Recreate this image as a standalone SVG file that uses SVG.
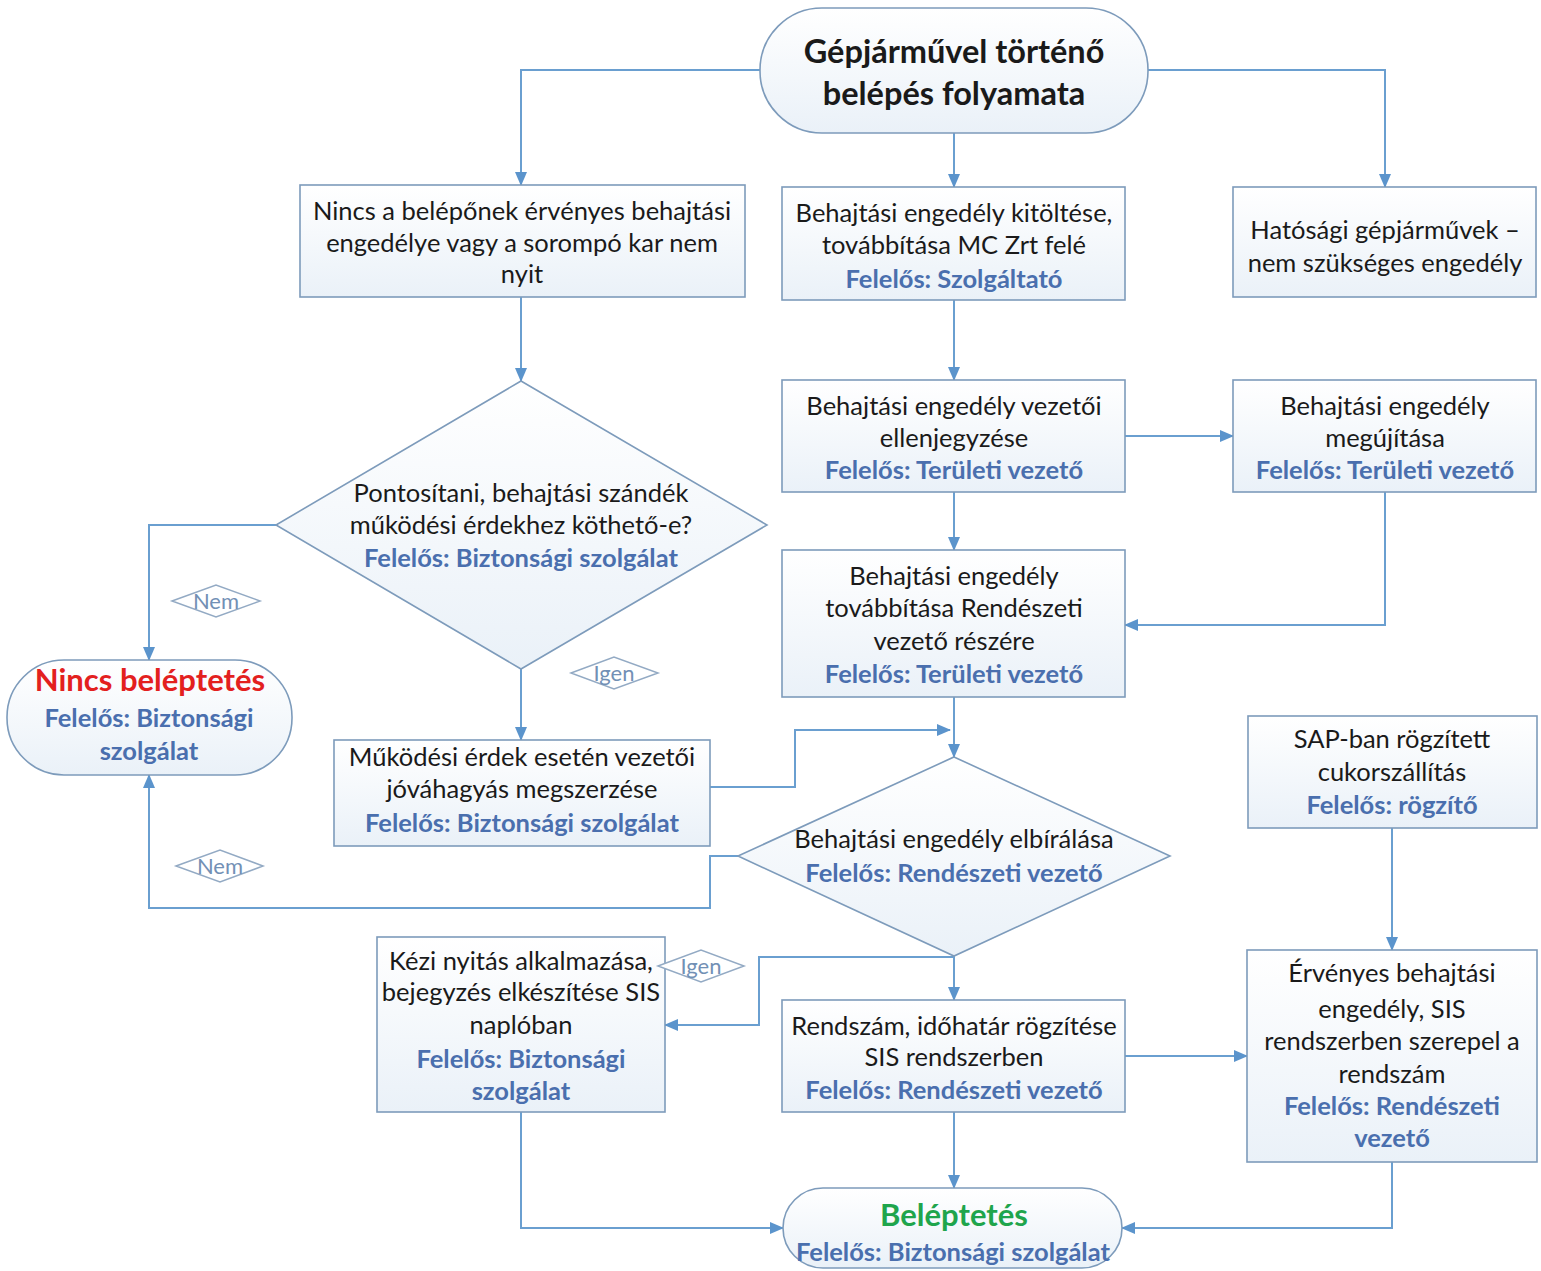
<svg xmlns="http://www.w3.org/2000/svg" width="1541" height="1271" viewBox="0 0 1541 1271">
<style>
.box{fill:url(#g);stroke:#7d9bbb;stroke-width:1.6}
.t{font-family:Lato,"Noto Sans",sans-serif;font-size:25.5px;fill:#1a1a1a;text-anchor:middle;dominant-baseline:central}
.b{font-weight:bold;fill:#4a6fae}
.c{fill:none;stroke:#6a9fd0;stroke-width:2}
.a{marker-end:url(#ar)}
.lb{fill:#fff;stroke:#93aac4;stroke-width:1.5}
.lt{font-family:Lato,"Noto Sans",sans-serif;font-size:22px;fill:#7290b5;text-anchor:middle;dominant-baseline:central}
</style>
<defs>
<linearGradient id="g" x1="0" y1="0" x2="0" y2="1"><stop offset="0" stop-color="#ffffff"/><stop offset="1" stop-color="#eaf1f8"/></linearGradient>
<marker id="ar" markerWidth="14" markerHeight="12" refX="13" refY="6" orient="auto" markerUnits="userSpaceOnUse"><path d="M0,0 L14,6 L0,12 z" fill="#5b94cc"/></marker>
</defs>
<rect width="1541" height="1271" fill="#fff"/>
<g id="connectors">
<path class="c a" d="M760,70 H521 V185"/>
<path class="c a" d="M954,133 V187"/>
<path class="c a" d="M1148,70 H1385 V187"/>
<path class="c a" d="M521,297 V381"/>
<path class="c a" d="M954,300 V380"/>
<path class="c a" d="M1125,436 H1233"/>
<path class="c a" d="M954,492 V550"/>
<path class="c a" d="M1385,492 V625 H1125"/>
<path class="c a" d="M276,525 H149 V660"/>
<path class="c a" d="M521,669 V740"/>
<path class="c a" d="M954,697 V757"/>
<path class="c a" d="M710,787 H795 V730 H950"/>
<path class="c a" d="M738,856 H710 V908 H149 V775"/>
<path class="c a" d="M954,956 V1000"/>
<path class="c a" d="M954,957 H759 V1025 H665"/>
<path class="c a" d="M1125,1056 H1247"/>
<path class="c a" d="M1392,828 V950"/>
<path class="c a" d="M954,1112 V1188"/>
<path class="c a" d="M521,1112 V1228 H783"/>
<path class="c a" d="M1392,1162 V1228 H1122"/>
</g>
<g id="start">
<rect class="box" x="760" y="8" width="388" height="125" rx="62"/>
<text class="t" x="954" y="50" style="font-size:32.5px;font-weight:bold">Gépjárművel történő</text>
<text class="t" x="954" y="92" style="font-size:32.5px;font-weight:bold">belépés folyamata</text>
</g>
<g id="nincs-engedely">
<rect class="box" x="300" y="185" width="445" height="112"/>
<text class="t" x="522" y="210">Nincs a belépőnek érvényes behajtási</text>
<text class="t" x="522" y="242">engedélye vagy a sorompó kar nem</text>
<text class="t" x="522" y="273">nyit</text>
</g>
<g id="kitoltes">
<rect class="box" x="782" y="187" width="343" height="113"/>
<text class="t" x="954" y="212">Behajtási engedély kitöltése,</text>
<text class="t" x="954" y="244">továbbítása MC Zrt felé</text>
<text class="t b" x="954" y="278">Felelős: Szolgáltató</text>
</g>
<g id="hatosagi">
<rect class="box" x="1233" y="187" width="303" height="110"/>
<text class="t" x="1385" y="229">Hatósági gépjárművek –</text>
<text class="t" x="1385" y="262">nem szükséges engedély</text>
</g>
<g id="ellenjegyzes">
<rect class="box" x="782" y="380" width="343" height="112"/>
<text class="t" x="954" y="405">Behajtási engedély vezetői</text>
<text class="t" x="954" y="437">ellenjegyzése</text>
<text class="t b" x="954" y="469">Felelős: Területi vezető</text>
</g>
<g id="megujitas">
<rect class="box" x="1233" y="380" width="303" height="112"/>
<text class="t" x="1385" y="405">Behajtási engedély</text>
<text class="t" x="1385" y="437">megújítása</text>
<text class="t b" x="1385" y="469">Felelős: Területi vezető</text>
</g>
<g id="pontositani">
<path class="box" d="M521,381 L767,525 L521,669 L276,525 Z"/>
<text class="t" x="521" y="492">Pontosítani, behajtási szándék</text>
<text class="t" x="521" y="524">működési érdekhez köthető-e?</text>
<text class="t b" x="521" y="557">Felelős: Biztonsági szolgálat</text>
</g>
<g id="tovabbitas">
<rect class="box" x="782" y="550" width="343" height="147"/>
<text class="t" x="954" y="575">Behajtási engedély</text>
<text class="t" x="954" y="607">továbbítása Rendészeti</text>
<text class="t" x="954" y="640">vezető részére</text>
<text class="t b" x="954" y="673">Felelős: Területi vezető</text>
</g>
<g id="nincs-beleptetes">
<rect class="box" x="7" y="660" width="285" height="115" rx="57"/>
<text class="t" x="150" y="679" style="font-size:31px;font-weight:bold;fill:#e3201e">Nincs beléptetés</text>
<text class="t b" x="149" y="717">Felelős: Biztonsági</text>
<text class="t b" x="149" y="750">szolgálat</text>
</g>
<g id="mukodesi">
<rect class="box" x="334" y="740" width="376" height="106"/>
<text class="t" x="522" y="756">Működési érdek esetén vezetői</text>
<text class="t" x="522" y="788">jóváhagyás megszerzése</text>
<text class="t b" x="522" y="822">Felelős: Biztonsági szolgálat</text>
</g>
<g id="elbiralas">
<path class="box" d="M954,757 L1170,856 L954,956 L738,856 Z"/>
<text class="t" x="954" y="838">Behajtási engedély elbírálása</text>
<text class="t b" x="954" y="872">Felelős: Rendészeti vezető</text>
</g>
<g id="sap">
<rect class="box" x="1248" y="716" width="289" height="112"/>
<text class="t" x="1392" y="738">SAP-ban rögzített</text>
<text class="t" x="1392" y="771">cukorszállítás</text>
<text class="t b" x="1392" y="804">Felelős: rögzítő</text>
</g>
<g id="kezi">
<rect class="box" x="377" y="937" width="288" height="175"/>
<text class="t" x="521" y="960">Kézi nyitás alkalmazása,</text>
<text class="t" x="521" y="991">bejegyzés elkészítése SIS</text>
<text class="t" x="521" y="1024">naplóban</text>
<text class="t b" x="521" y="1058">Felelős: Biztonsági</text>
<text class="t b" x="521" y="1090">szolgálat</text>
</g>
<g id="rendszam">
<rect class="box" x="782" y="1000" width="343" height="112"/>
<text class="t" x="954" y="1025">Rendszám, időhatár rögzítése</text>
<text class="t" x="954" y="1056">SIS rendszerben</text>
<text class="t b" x="954" y="1089">Felelős: Rendészeti vezető</text>
</g>
<g id="ervenyes">
<rect class="box" x="1247" y="950" width="290" height="212"/>
<text class="t" x="1392" y="972">Érvényes behajtási</text>
<text class="t" x="1392" y="1008">engedély, SIS</text>
<text class="t" x="1392" y="1040">rendszerben szerepel a</text>
<text class="t" x="1392" y="1073">rendszám</text>
<text class="t b" x="1392" y="1105">Felelős: Rendészeti</text>
<text class="t b" x="1392" y="1137">vezető</text>
</g>
<g id="beleptetes">
<rect class="box" x="783" y="1188" width="339" height="80" rx="40"/>
<text class="t" x="954" y="1214" style="font-size:31px;font-weight:bold;fill:#1fa54c">Beléptetés</text>
<text class="t b" x="953" y="1251">Felelős: Biztonsági szolgálat</text>
</g>
<g id="labels">
<path class="lb" d="M172,601 L216,585 L260,601 L216,617 Z"/>
<text class="lt" x="216" y="600">Nem</text>
<path class="lb" d="M571,673 L614,657 L658,673 L614,689 Z"/>
<text class="lt" x="614" y="672">Igen</text>
<path class="lb" d="M176,866 L220,850 L263,866 L220,882 Z"/>
<text class="lt" x="220" y="865">Nem</text>
<path class="lb" d="M658,966 L701,950 L744,966 L701,982 Z"/>
<text class="lt" x="701" y="965">Igen</text>
</g>
</svg>
